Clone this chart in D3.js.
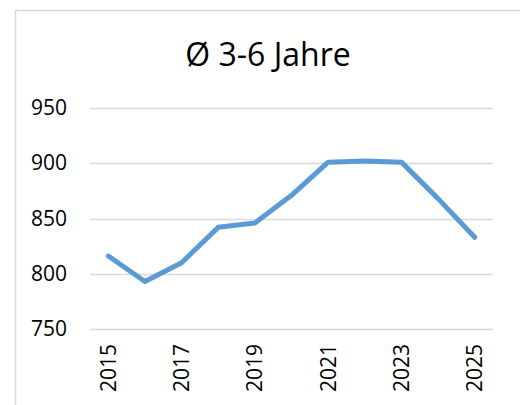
<!DOCTYPE html>
<html>
<head>
<meta charset="utf-8">
<script src="https://cdn.jsdelivr.net/npm/d3@7"></script>
<style>
  body { margin: 0; background: #fff; }
  svg { display: block; font-family: "Open Sans", "Noto Sans", sans-serif; }
</style>
</head>
<body>
<div id="chart"></div>
<script>
// data
const years = ["2015","2016","2017","2018","2019","2020","2021","2022","2023","2024","2025"];
const values = [816, 793, 810, 842, 846, 871, 901, 902, 901, 868, 833];
const yTicks = [750, 800, 850, 900, 950];
const labelYears = ["2015","2017","2019","2021","2023","2025"];
const title = "Ø 3-6 Jahre";

const width = 520, height = 405;
const margin = { left: 90, right: 27, top: 108, bottom: 76 };

const svg = d3.select("#chart").append("svg")
  .attr("width", width)
  .attr("height", height);

// chart frame (runs off the right and bottom edges)
svg.append("rect")
  .attr("x", 15.5).attr("y", 10.5)
  .attr("width", 700).attr("height", 700)
  .attr("fill", "none")
  .attr("stroke", "#d9d9d9")
  .attr("stroke-width", 1.5);

const xScale = d3.scaleBand()
  .domain(years)
  .range([margin.left, width - margin.right]);

const yScale = d3.scaleLinear()
  .domain([750, 950])
  .range([height - margin.bottom, margin.top]);

// gridlines
svg.append("g")
  .selectAll("line").data(yTicks).enter()
  .append("line")
  .attr("x1", margin.left).attr("x2", width - margin.right)
  .attr("y1", d => Math.round(yScale(d)) + 0.5)
  .attr("y2", d => Math.round(yScale(d)) + 0.5)
  .attr("stroke", "#d9d9d9")
  .attr("stroke-width", 1.5);

// y axis labels
const yAxis = d3.axisLeft(yScale).tickValues(yTicks).tickSize(0).tickPadding(23);
svg.append("g")
  .attr("transform", `translate(${margin.left},0)`)
  .call(yAxis)
  .call(g => g.select(".domain").remove())
  .selectAll("text")
  .attr("font-size", 21)
  .attr("font-family", "Open Sans, Noto Sans, sans-serif")
  .attr("fill", "#000");

// x axis labels (rotated)
const xAxis = d3.axisBottom(xScale).tickValues(labelYears).tickSize(0).tickPadding(0);
svg.append("g")
  .attr("transform", `translate(0,${height - margin.bottom})`)
  .call(xAxis)
  .call(g => g.select(".domain").remove())
  .selectAll("text")
  .attr("font-size", 21)
  .attr("font-family", "Open Sans, Noto Sans, sans-serif")
  .attr("fill", "#000")
  .attr("transform", "rotate(-90)")
  .attr("text-anchor", "end")
  .attr("x", -15)
  .attr("y", 0)
  .attr("dy", "0.36em");

// the line
const line = d3.line()
  .x((d, i) => xScale(years[i]) + xScale.bandwidth() / 2)
  .y(d => yScale(d));

svg.append("path")
  .datum(values)
  .attr("d", line)
  .attr("fill", "none")
  .attr("stroke", "#5b9bd5")
  .attr("stroke-width", 5)
  .attr("stroke-linejoin", "round")
  .attr("stroke-linecap", "round");

// title
svg.append("text")
  .attr("x", 268)
  .attr("y", 66)
  .attr("text-anchor", "middle")
  .attr("font-size", 32)
  .attr("fill", "#000")
  .text(title);
</script>
</body>
</html>
